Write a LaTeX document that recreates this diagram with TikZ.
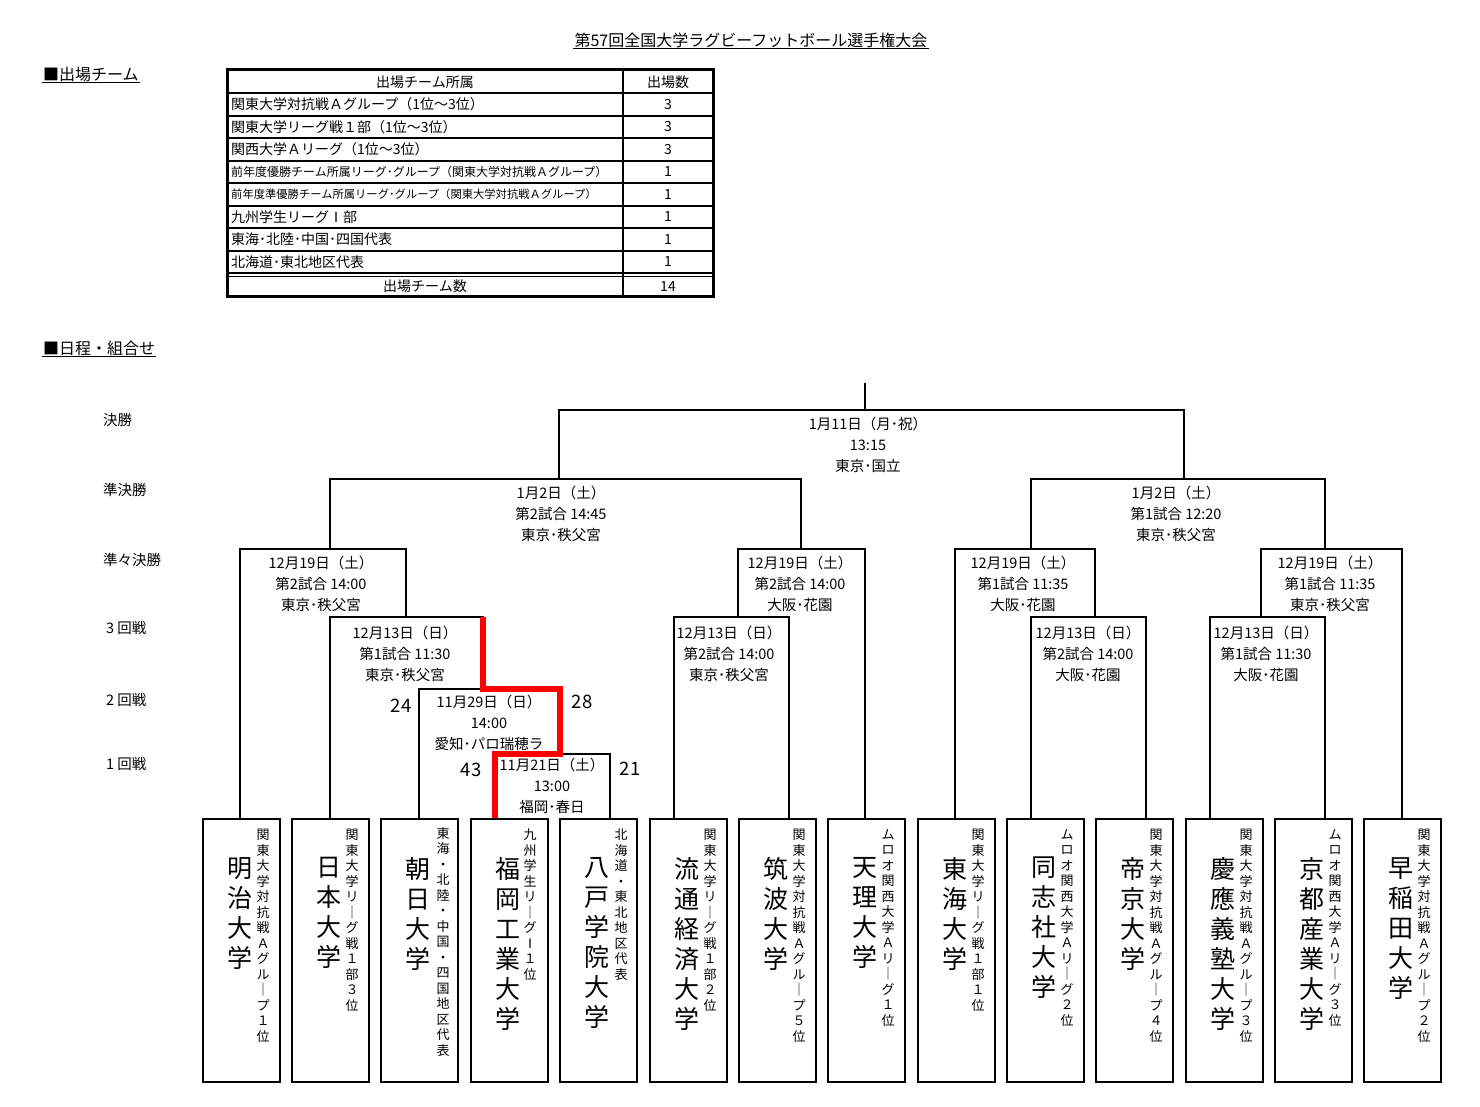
\documentclass[tikz,border=0pt]{standalone}
\usepackage{fontspec}
\setmainfont{Noto Sans CJK JP}
\usetikzlibrary{positioning}

% vertical (tate) text: one character per line
\makeatletter
\def\tate#1{\def\tate@out{}\tate@a#1\@nil\tate@out}
\def\tate@a#1{\def\tate@out{#1}\tate@b}
\def\tate@b#1{\ifx#1\@nil\else\expandafter\def\expandafter\tate@out\expandafter{\tate@out\\#1}\expandafter\tate@b\fi}
\makeatother

\tikzset{
  bline/.style={line width=1.5pt, line join=miter},
  redline/.style={line width=5.5pt, red, line join=miter},
  tline/.style={line width=1.8pt},
  team/.style={draw, line width=1.8pt, minimum width=77pt, minimum height=263pt, anchor=north west, inner sep=0pt},
  tname/.style={anchor=north, inner sep=0pt, align=center, font=\fontsize{25}{30}\selectfont},
  tsub/.style={anchor=north, inner sep=0pt, align=center, font=\fontsize{13}{15.5}\selectfont},
  mtext/.style={anchor=north, inner sep=0pt, align=center, font=\fontsize{14.5}{21}\selectfont},
  rlabel/.style={anchor=west, inner sep=0pt, font=\fontsize{14.5}{17}\selectfont},
  cell/.style={anchor=west, inner sep=0pt, font=\fontsize{14}{16}\selectfont},
  ccell/.style={inner sep=0pt, font=\fontsize{14}{16}\selectfont},
  score/.style={inner sep=0pt, font=\fontsize{18.5}{20}\selectfont},
  head/.style={anchor=west, inner sep=1pt, font=\fontsize{16}{18}\selectfont}
}

\begin{document}
\begin{tikzpicture}[x=1pt, y=-1pt]
  \useasboundingbox (0,0) rectangle (1480,1107);

  % title and headings
  \node[inner sep=1pt, font=\fontsize{16}{19}\selectfont] (title) at (751,40) {第57回全国大学ラグビーフットボール選手権大会};
  \draw[line width=1pt] (title.south west) -- (title.south east);
  \node[head] (head1) at (42,74) {■出場チーム};
  \draw[line width=1pt] (head1.south west) -- (head1.south east);
  \node[head] (head2) at (42,348) {■日程・組合せ};
  \draw[line width=1pt] (head2.south west) -- (head2.south east);

  % table
  \draw[line width=3pt] (227,70) rectangle (713,297);
  \draw[tline] (623,70) -- (623,297);
  \draw[tline] (227,93) -- (713,93);
  \draw[tline] (227,116) -- (713,116);
  \draw[tline] (227,138) -- (713,138);
  \draw[tline] (227,161) -- (713,161);
  \draw[tline] (227,183) -- (713,183);
  \draw[tline] (227,206) -- (713,206);
  \draw[tline] (227,228) -- (713,228);
  \draw[tline] (227,251) -- (713,251);
  \draw[tline] (227,273) -- (713,273);
  \draw[tline] (227,276.5) -- (713,276.5);
  \node[ccell] (hd1) at (425,82) {出場チーム所属};
  \node[ccell] (hd2) at (668,82) {出場数};
  \node[cell] (row1) at (231,104.5) {関東大学対抗戦Ａグループ（1位～3位）};
  \node[cell] (row2) at (231,127) {関東大学リーグ戦１部（1位～3位）};
  \node[cell] (row3) at (231,149.5) {関西大学Ａリーグ（1位～3位）};
  \node[cell, font=\fontsize{12}{14}\selectfont] (row4) at (231,172) {前年度優勝チーム所属リーグ･グループ（関東大学対抗戦Ａグループ）};
  \node[cell, font=\fontsize{11.3}{14}\selectfont] (row5) at (231,194.5) {前年度準優勝チーム所属リーグ･グループ（関東大学対抗戦Ａグループ）};
  \node[cell] (row6) at (231,217) {九州学生リーグⅠ部};
  \node[cell] (row7) at (231,239.5) {東海･北陸･中国･四国代表};
  \node[cell] (row8) at (231,262) {北海道･東北地区代表};
  \node[ccell] (num1) at (668,104.5) {3};
  \node[ccell] (num2) at (668,127) {3};
  \node[ccell] (num3) at (668,149.5) {3};
  \node[ccell] (num4) at (668,172) {1};
  \node[ccell] (num5) at (668,194.5) {1};
  \node[ccell] (num6) at (668,217) {1};
  \node[ccell] (num7) at (668,239.5) {1};
  \node[ccell] (num8) at (668,262) {1};
  \node[ccell] (tot1) at (425,286.5) {出場チーム数};
  \node[ccell] (tot2) at (668,286.5) {14};

  % round labels
  \node[rlabel] (rd6) at (103,420) {決勝};
  \node[rlabel] (rd5) at (103,490) {準決勝};
  \node[rlabel] (rd4) at (103,560) {準々決勝};
  \node[rlabel] (rd3) at (106,628) {3 回戦};
  \node[rlabel] (rd2) at (106,700) {2 回戦};
  \node[rlabel] (rd1) at (106,764) {1 回戦};

  % bracket
  \draw[bline] (865,383) -- (865,410);
  \draw[bline] (559,479) |- (1184,410) -- (1184,479);
  \draw[bline] (330,549) |- (801,479) -- (801,549);
  \draw[bline] (1031,549) |- (1325,479) -- (1325,549);
  \draw[bline] (240,818) |- (406,549) -- (406,617);
  \draw[bline] (738,617) |- (865,549) -- (865,818);
  \draw[bline] (955,818) |- (1095,549) -- (1095,617);
  \draw[bline] (1261,617) |- (1402,549) -- (1402,818);
  \draw[bline] (330,818) |- (483,617) -- (483,689);
  \draw[bline] (674,818) |- (789,617) -- (789,818);
  \draw[bline] (1031,818) |- (1146,617) -- (1146,818);
  \draw[bline] (1210,818) |- (1325,617) -- (1325,818);
  \draw[bline] (419,818) |- (560,689) -- (560,754);
  \draw[bline] (495,818) |- (610,754) -- (610,818);
  \draw[redline] (495,818) |- (560,754) |- (483,689) -- (483,617);

  % match dates
  \node[mtext] (fin) at (868,416.5) {1月11日（月･祝）\\13:15\\東京･国立};
  \node[mtext] (sf1) at (561,485.5) {1月2日（土）\\第2試合 14:45\\東京･秩父宮};
  \node[mtext] (sf2) at (1176,485.5) {1月2日（土）\\第1試合 12:20\\東京･秩父宮};
  \node[mtext] (qf1) at (321,555.5) {12月19日（土）\\第2試合 14:00\\東京･秩父宮};
  \node[mtext] (qf2) at (800,555.5) {12月19日（土）\\第2試合 14:00\\大阪･花園};
  \node[mtext] (qf3) at (1023,555.5) {12月19日（土）\\第1試合 11:35\\大阪･花園};
  \node[mtext] (qf4) at (1330,555.5) {12月19日（土）\\第1試合 11:35\\東京･秩父宮};
  \node[mtext] (r3a) at (405,625.5) {12月13日（日）\\第1試合 11:30\\東京･秩父宮};
  \node[mtext] (r3b) at (729,625.5) {12月13日（日）\\第2試合 14:00\\東京･秩父宮};
  \node[mtext] (r3c) at (1088,625.5) {12月13日（日）\\第2試合 14:00\\大阪･花園};
  \node[mtext] (r3d) at (1266,625.5) {12月13日（日）\\第1試合 11:30\\大阪･花園};
  \node[mtext] (r2a) at (489,694.5) {11月29日（日）\\14:00\\愛知･パロ瑞穂ラ};
  \node[mtext] (r1a) at (552,757.5) {11月21日（土）\\13:00\\福岡･春日};

  % scores
  \node[score] (sc1) at (401,706) {24};
  \node[score] (sc2) at (582,702) {28};
  \node[score] (sc3) at (471,770) {43};
  \node[score] (sc4) at (630,769) {21};

  % teams
  \node[team] (t1) at (202,818) {};
  \node[team] (t2) at (291,818) {};
  \node[team] (t3) at (380,818) {};
  \node[team] (t4) at (470,818) {};
  \node[team] (t5) at (559,818) {};
  \node[team] (t6) at (649,818) {};
  \node[team] (t7) at (738,818) {};
  \node[team] (t8) at (827,818) {};
  \node[team] (t9) at (917,818) {};
  \node[team] (t10) at (1006,818) {};
  \node[team] (t11) at (1095,818) {};
  \node[team] (t12) at (1185,818) {};
  \node[team] (t13) at (1274,818) {};
  \node[team] (t14) at (1363,818) {};

  \node[tname] (n1) at ([shift={(38,39)}]t1.north west) {\tate{明治大学}};
  \node[tname] (n2) at ([shift={(38,39)}]t2.north west) {\tate{日本大学}};
  \node[tname] (n3) at ([shift={(38,39)}]t3.north west) {\tate{朝日大学}};
  \node[tname] (n4) at ([shift={(38,39)}]t4.north west) {\tate{福岡工業大学}};
  \node[tname] (n5) at ([shift={(38,39)}]t5.north west) {\tate{八戸学院大学}};
  \node[tname] (n6) at ([shift={(38,39)}]t6.north west) {\tate{流通経済大学}};
  \node[tname] (n7) at ([shift={(38,39)}]t7.north west) {\tate{筑波大学}};
  \node[tname] (n8) at ([shift={(38,39)}]t8.north west) {\tate{天理大学}};
  \node[tname] (n9) at ([shift={(38,39)}]t9.north west) {\tate{東海大学}};
  \node[tname] (n10) at ([shift={(38,39)}]t10.north west) {\tate{同志社大学}};
  \node[tname] (n11) at ([shift={(38,39)}]t11.north west) {\tate{帝京大学}};
  \node[tname] (n12) at ([shift={(38,39)}]t12.north west) {\tate{慶應義塾大学}};
  \node[tname] (n13) at ([shift={(38,39)}]t13.north west) {\tate{京都産業大学}};
  \node[tname] (n14) at ([shift={(38,39)}]t14.north west) {\tate{早稲田大学}};

  \node[tsub] (s1) at ([shift={(61,11)}]t1.north west) {\tate{関東大学対抗戦Ａグル｜プ１位}};
  \node[tsub] (s2) at ([shift={(61,11)}]t2.north west) {\tate{関東大学リ｜グ戦１部３位}};
  \node[tsub] (s3) at ([shift={(63,9)}]t3.north west) {\tate{東海・北陸・中国・四国地区代表}};
  \node[tsub] (s4) at ([shift={(60,11)}]t4.north west) {\tate{九州学生リ｜グⅠ１位}};
  \node[tsub] (s5) at ([shift={(62,11)}]t5.north west) {\tate{北海道・東北地区代表}};
  \node[tsub] (s6) at ([shift={(61,11)}]t6.north west) {\tate{関東大学リ｜グ戦１部２位}};
  \node[tsub] (s7) at ([shift={(61,11)}]t7.north west) {\tate{関東大学対抗戦Ａグル｜プ５位}};
  \node[tsub] (s8) at ([shift={(61,11)}]t8.north west) {\tate{ムロオ関西大学Ａリ｜グ１位}};
  \node[tsub] (s9) at ([shift={(61,11)}]t9.north west) {\tate{関東大学リ｜グ戦１部１位}};
  \node[tsub] (s10) at ([shift={(61,11)}]t10.north west) {\tate{ムロオ関西大学Ａリ｜グ２位}};
  \node[tsub] (s11) at ([shift={(61,11)}]t11.north west) {\tate{関東大学対抗戦Ａグル｜プ４位}};
  \node[tsub] (s12) at ([shift={(61,11)}]t12.north west) {\tate{関東大学対抗戦Ａグル｜プ３位}};
  \node[tsub] (s13) at ([shift={(61,11)}]t13.north west) {\tate{ムロオ関西大学Ａリ｜グ３位}};
  \node[tsub] (s14) at ([shift={(61,11)}]t14.north west) {\tate{関東大学対抗戦Ａグル｜プ２位}};
\end{tikzpicture}
\end{document}
